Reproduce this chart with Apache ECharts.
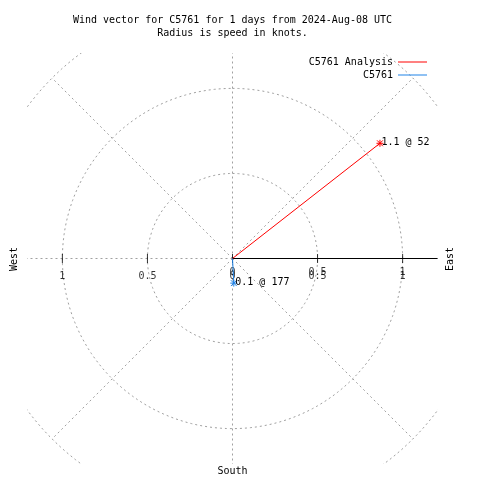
<!DOCTYPE html>
<html><head><meta charset="utf-8">
<script src="https://cdn.jsdelivr.net/npm/echarts@6/dist/echarts.min.js"></script>
<style>html,body{margin:0;padding:0;background:#fff}#c{width:480px;height:480px}</style>
</head><body><div id="c"></div>
<script>
const titleLines = ['Wind vector for C5761 for 1 days from 2024-Aug-08 UTC', 'Radius is speed in knots.'];
const seriesNames = ['C5761 Analysis', 'C5761'];
const speeds = [1.1, 0.145];
const directions = [52, 177];
const seriesColors = ['#ff0000', '#1e82e6'];
const ringRadii = [0.5, 1, 1.5];
const spokeAngles = [0, 45, 90, 135, 180, 225, 270, 315];
const tickValues = [-1, -0.5, 0, 0.5, 1];
const tickLabels = ['1', '0.5', '0', '0.5', '1'];
const echoTickValues = [0, 0.5, 1];
const echoTickLabels = ['0', '0.5', '1'];
const compassLabels = ['West', 'East', 'South'];
const axisMax = 1.205;

const FONT = '"DejaVu Sans Mono", "Liberation Mono", monospace';
const gridGray = '#a0a0a0';
const toXY = (r, deg) => [r * Math.sin(deg * Math.PI / 180), r * Math.cos(deg * Math.PI / 180)];
const starPath = 'path://M0,3L6,3M3,0L3,6M0.5,0.5L5.5,5.5M5.5,0.5L0.5,5.5';

const series = [];
ringRadii.forEach(r => {
  const pts = [];
  for (let a = 0; a <= 360; a += 2) pts.push(toXY(r, a));
  series.push({type: 'line', data: pts, symbol: 'none', silent: true, z: 1,
    lineStyle: {color: gridGray, width: 1, type: [2, 3]}, animation: false});
});
spokeAngles.forEach(a => {
  series.push({type: 'line', data: [[0, 0], toXY(ringRadii[ringRadii.length - 1], a)], symbol: 'none', silent: true, z: 1,
    lineStyle: {color: gridGray, width: 1, type: [2, 3]}, animation: false});
});
series.push({type: 'line', data: [[0, 0], [axisMax, 0]], symbol: 'none', silent: true, z: 3,
  lineStyle: {color: '#000', width: 1}, animation: false});
series.push({type: 'scatter', data: tickValues.map(v => [v, 0]), symbol: 'rect', symbolSize: [1, 9], silent: true, z: 4,
  itemStyle: {color: '#000'}, animation: false});
const labelSeries = (vals, labs, dy) => ({
  type: 'scatter', silent: true, z: 4, symbolSize: 1, itemStyle: {color: 'rgba(0,0,0,0)'}, animation: false,
  data: vals.map((v, i) => ({value: [v, 0], name: labs[i]})),
  label: {show: true, formatter: '{b}', position: [0.5, dy], align: 'center', verticalAlign: 'middle',
    fontFamily: FONT, fontSize: 10, color: '#000'}
});
series.push(labelSeries(tickValues, tickLabels, 18));
series.push(labelSeries(echoTickValues, echoTickLabels, 14));

seriesNames.forEach((name, i) => {
  const end = toXY(speeds[i], directions[i]);
  series.push({
    type: 'line', name, color: seriesColors[i], z: 6, animation: false, showSymbol: true,
    lineStyle: {color: seriesColors[i], width: 1},
    emphasis: {disabled: true},
    data: [
      {value: [0, 0], symbol: 'none'},
      {value: end, symbol: starPath, symbolSize: 7,
        itemStyle: {color: seriesColors[i], borderColor: seriesColors[i], borderWidth: 1},
        label: {show: true, formatter: speeds[i].toFixed(1) + ' @ ' + directions[i], position: [5.5, 3.5],
          align: 'left', verticalAlign: 'middle', fontFamily: FONT, fontSize: 10, color: '#000'}}
    ]
  });
});

const chart = echarts.init(document.getElementById('c'), null, {renderer: 'canvas'});
chart.setOption({
  animation: false,
  backgroundColor: '#fff',
  grid: {left: 27.5, top: 53.5, width: 410, height: 410, containLabel: false},
  xAxis: {type: 'value', min: -axisMax, max: axisMax, show: false},
  yAxis: {type: 'value', min: -axisMax, max: axisMax, show: false},
  legend: {
    data: seriesNames.map((n, i) => ({name: n, itemStyle: {color: seriesColors[i]}})),
    orient: 'vertical', align: 'right', right: 53, top: 56, padding: 0, itemGap: 1,
    icon: 'rect', itemWidth: 29, itemHeight: 1, selectedMode: false,
    textStyle: {fontFamily: FONT, fontSize: 10, color: '#000', lineHeight: 12}
  },
  graphic: [
    {type: 'text', x: 232.5, y: 20.5, silent: true, style: {text: titleLines[0], font: '10px ' + FONT, fill: '#000', align: 'center', verticalAlign: 'middle'}},
    {type: 'text', x: 232.5, y: 33, silent: true, style: {text: titleLines[1], font: '10px ' + FONT, fill: '#000', align: 'center', verticalAlign: 'middle'}},
    {type: 'text', x: 14.5, y: 259, rotation: Math.PI / 2, silent: true, style: {text: compassLabels[0], font: '10px ' + FONT, fill: '#000', align: 'center', verticalAlign: 'middle'}},
    {type: 'text', x: 450, y: 259, rotation: Math.PI / 2, silent: true, style: {text: compassLabels[1], font: '10px ' + FONT, fill: '#000', align: 'center', verticalAlign: 'middle'}},
    {type: 'text', x: 232.5, y: 471, silent: true, style: {text: compassLabels[2], font: '10px ' + FONT, fill: '#000', align: 'center', verticalAlign: 'middle'}}
  ],
  series
});
</script></body></html>
